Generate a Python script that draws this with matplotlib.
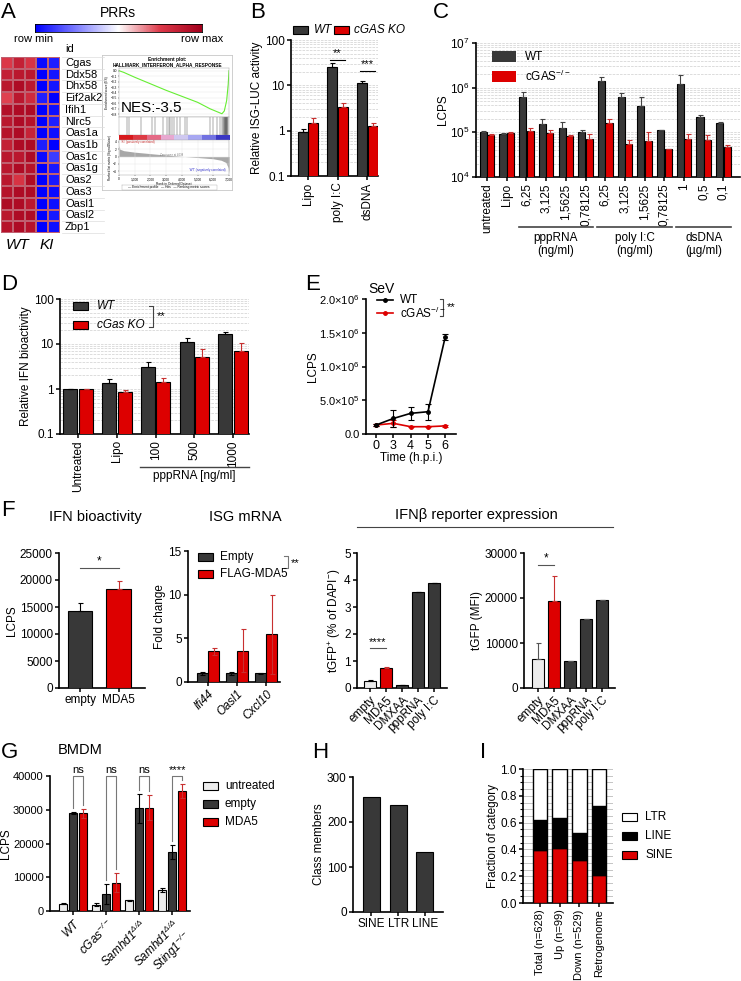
import numpy as np
import matplotlib.pyplot as plt
from matplotlib.colors import LinearSegmentedColormap, ListedColormap
from matplotlib.patches import Rectangle
from matplotlib.lines import Line2D
from matplotlib.ticker import LogLocator, NullFormatter, MultipleLocator

W, H = 741, 981
DARK = '#383838'
RED = '#dd0000'
LIGHT = '#ececec'
ERR_RED = '#c83030'

plt.rcParams['font.family'] = ['Liberation Sans', 'DejaVu Sans']
plt.rcParams['mathtext.fontset'] = 'custom'
plt.rcParams['mathtext.rm'] = 'Liberation Sans'
plt.rcParams['mathtext.it'] = 'Liberation Sans:italic'
plt.rcParams['mathtext.default'] = 'regular'
plt.rcParams['font.size'] = 8

# ---------------- data ----------------
# A: heatmap (row-scaled, 0 = row min, 1 = row max), WT x3, KI x2
genes = ['Cgas', 'Ddx58', 'Dhx58', 'Eif2ak2', 'Ifih1', 'Nlrc5', 'Oas1a', 'Oas1b',
         'Oas1c', 'Oas1g', 'Oas2', 'Oas3', 'Oasl1', 'Oasl2', 'Zbp1']
heat_vals = [
    [0.76, 0.86, 0.78, 0.02, 0.06],
    [0.86, 0.90, 0.90, 0.00, 0.04],
    [0.90, 0.95, 0.90, 0.00, 0.04],
    [0.74, 0.90, 0.82, 0.06, 0.00],
    [0.93, 0.95, 0.95, 0.00, 0.03],
    [0.90, 0.95, 0.92, 0.00, 0.06],
    [0.92, 0.95, 0.85, 0.00, 0.03],
    [0.86, 0.95, 0.95, 0.06, 0.00],
    [0.90, 0.90, 0.95, 0.02, 0.12],
    [0.90, 0.95, 0.92, 0.00, 0.05],
    [0.90, 0.78, 0.95, 0.00, 0.05],
    [0.92, 0.95, 0.95, 0.00, 0.02],
    [0.95, 0.95, 0.90, 0.00, 0.03],
    [0.90, 0.95, 0.95, 0.00, 0.05],
    [0.92, 0.95, 0.92, 0.00, 0.03],
]
es_rank = [0, 300, 1000, 2000, 3000, 4000, 5000, 5800, 6300, 6550, 6700, 6850, 6950, 7000]
es_score = [0, -0.03, -0.12, -0.24, -0.36, -0.47, -0.58, -0.70, -0.76, -0.79, -0.74, -0.55, -0.25, 0.0]
hit_ranks = [480, 620, 1380, 2100, 2260, 2800, 3050, 3200, 3260, 3350, 3480, 3700, 3900,
             4200, 4350, 5800, 6000, 6250, 6420, 6560, 6640, 6670, 6700, 6720, 6740, 6760,
             6780, 6800, 6820, 6840, 6860, 6880, 6900, 6920]
metric_rank = [0, 60, 300, 1000, 2000, 3000, 4000, 5000, 6000, 6500, 6800, 6950, 7000]
metric_score = [3.0, 2.0, 1.6, 1.2, 0.8, 0.4, 0.05, -0.25, -0.6, -1.0, -1.6, -3.0, -4.5]
band_colors = ['#d7191c', '#dd3b45', '#e56a86', '#e8a8d0', '#cfc8f0', '#a8a8f2', '#7272e2', '#3a36c4']

# B
b_cats = ['Lipo', 'poly I:C', 'dsDNA']
b_wt = [0.95, 25.9, 11.4]
b_wt_err = [0.12, 5.7, 1.1]
b_ko = [1.5, 3.4, 1.29]
b_ko_err = [0.38, 0.75, 0.21]

# C
c_cats = ['untreated', 'Lipo', '6,25', '3,125', '1,5625', '0,78125',
          '6,25', '3,125', '1,5625', '0,78125', '1', '0,5', '0,1']
c_wt = [1.03e5, 9.0e4, 6.25e5, 1.53e5, 1.23e5, 1.03e5, 1.4e6, 6.1e5, 3.9e5, 1.13e5, 1.18e6, 2.17e5, 1.58e5]
c_wt_err = [0.06e5, 0.06e5, 1.85e5, 0.42e5, 0.47e5, 0.1e5, 0.3e6, 1.4e5, 2.2e5, 0.02e5, 0.72e6, 0.27e5, 0.14e5]
c_ko = [8.7e4, 9.5e4, 1.08e5, 9.8e4, 8.2e4, 7.0e4, 1.58e5, 5.5e4, 6.4e4, 4.2e4, 7.1e4, 6.7e4, 4.8e4]
c_ko_err = [0.03e5, 0.08e5, 0.15e5, 0.15e5, 0.05e5, 0.2e5, 0.4e5, 0.12e5, 0.36e5, 0.01e5, 0.2e5, 0.2e5, 0.03e5]

# D
d_cats = ['Untreated', 'Lipo', '100', '500', '1000']
d_wt = [1.0, 1.34, 3.13, 11.2, 16.4]
d_wt_err = [0.0, 0.3, 0.77, 2.6, 2.3]
d_ko = [1.0, 0.84, 1.45, 5.2, 7.1]
d_ko_err = [0.0, 0.11, 0.33, 2.4, 3.6]

# E
e_time = ['0', '3', '4', '5', '6']
e_wt = [1.33e5, 2.3e5, 3.06e5, 3.3e5, 1.44e6]
e_wt_err = [0.1e5, 1.2e5, 1.0e5, 1.2e5, 0.4e5]
e_ko = [1.33e5, 1.58e5, 1.08e5, 1.08e5, 1.2e5]
e_ko_err = [0.1e5, 0.5e5, 0.1e5, 0.1e5, 0.2e5]

# F
f1_cats = ['empty', 'MDA5']
f1_vals = [14300, 18350]
f1_err = [1500, 1500]
f2_genes = ['Ifi44', 'Oasl1', 'Cxcl10']
f2_empty = [1.0, 1.0, 1.0]
f2_empty_err = [0.15, 0.15, 0.05]
f2_mda5 = [3.5, 3.6, 5.46]
f2_mda5_err = [0.4, 2.5, 4.5]
f3_cats = ['empty', 'MDA5', 'DMXAA', 'pppRNA', 'poly I:C']
f3_vals = [0.25, 0.73, 0.10, 3.57, 3.88]
f3_err = [0.06, 0.04, 0.0, 0.0, 0.0]
f4_vals = [6440, 19330, 6070, 15330, 19550]
f4_err = [3560, 5570, 0, 0, 0]
f34_colors = [LIGHT, RED, DARK, DARK, DARK]

# G
g_groups = [r'WT', r'cGas$^{-/-}$', r'Samhd1$^{\Delta/\Delta}$', 'Samhd1$^{\Delta/\Delta}$\nSting1$^{-/-}$']
g_untreated = [2200, 1900, 3200, 6200]
g_untreated_err = [100, 400, 200, 500]
g_empty = [29100, 5000, 30400, 17400]
g_empty_err = [300, 2900, 4300, 2100]
g_mda5 = [28900, 8400, 30600, 35500]
g_mda5_err = [1200, 2800, 3700, 2100]
g_sig = ['ns', 'ns', 'ns', '****']

# H
h_cats = ['SINE', 'LTR', 'LINE']
h_vals = [255, 237, 133]

# I
i_cats = ['Total (n=628)', 'Up (n=99)', 'Down (n=529)', 'Retrogenome']
i_sine = [0.395, 0.41, 0.32, 0.21]
i_line = [0.225, 0.225, 0.205, 0.515]
i_ltr = [1 - s - l for s, l in zip(i_sine, i_line)]

# ---------------- helpers ----------------
fig = plt.figure(figsize=(W / 100, H / 100), dpi=100)
TICK = 8.5
LAB = 8.5


def px_ax(x0, y0, x1, y1):
    return fig.add_axes([x0 / W, 1 - y1 / H, (x1 - x0) / W, (y1 - y0) / H])


def ftext(x, y, s, **kw):
    kw.setdefault('ha', 'left')
    kw.setdefault('va', 'center')
    fig.text(x / W, 1 - y / H, s, **kw)


def fbox(x, y, w, h, color, lw=0.8):
    fig.patches.append(Rectangle((x / W, 1 - (y + h) / H), w / W, h / H, transform=fig.transFigure,
                                 facecolor=color, edgecolor='black', lw=lw))


def fline(xs, ys, **kw):
    fig.add_artist(Line2D([x / W for x in xs], [1 - y / H for y in ys], **kw))


def style(ax, fs=TICK):
    for s in ('top', 'right'):
        ax.spines[s].set_visible(False)
    for s in ('left', 'bottom'):
        ax.spines[s].set_linewidth(1.2)
    ax.tick_params(labelsize=fs, width=1.1, length=3, pad=1.5)


def bars(ax, x, vals, errs, color, width, ecolor, both=False, zorder=3):
    errs = np.array(errs, dtype=float)
    yerr = errs if both else [np.zeros(len(errs)), errs]
    ax.bar(x, vals, width, color=color, edgecolor='black', linewidth=0.8, yerr=yerr, zorder=zorder,
           error_kw=dict(ecolor=ecolor, elinewidth=0.8, capsize=1.8, capthick=0.8, zorder=zorder + 1))


def log_grid(ax):
    ax.yaxis.set_minor_locator(LogLocator(base=10, subs=np.arange(2, 10)))
    ax.yaxis.set_minor_formatter(NullFormatter())
    ax.yaxis.grid(True, which='both', linestyle='--', color='#cfcfcf', lw=0.5, zorder=0)
    ax.tick_params(axis='y', which='minor', length=0)


def letter(x, y, s):
    ftext(x, y, s, fontsize=16)


# ---------------- A ----------------
letter(1, 13, 'A')
ftext(118, 13, 'PRRs', ha='center', fontsize=10)
cmap = LinearSegmentedColormap.from_list(
    'prr', [(0, '#0000ff'), (0.5, '#ffffff'), (0.75, '#de3a4a'), (1.0, '#a3001c')])
cb_ax = px_ax(35, 24, 202, 32)
cb_ax.imshow([np.linspace(0, 1, 200)], cmap=cmap, aspect='auto')
cb_ax.set_xticks([])
cb_ax.set_yticks([])
for s in cb_ax.spines.values():
    s.set_linewidth(0.6)
ftext(34, 39, 'row min', ha='center', fontsize=8)
ftext(202, 39, 'row max', ha='center', fontsize=8)
ftext(65, 49, 'id', fontsize=8)

hm = px_ax(1, 57, 60, 233)
hm.pcolormesh(np.array(heat_vals), cmap=cmap, vmin=0, vmax=1, edgecolors='#c06070', linewidth=0.25)
hm.set_ylim(len(genes), 0)
hm.axis('off')
row_h = (233 - 57) / len(genes)
for i, g in enumerate(genes):
    ftext(65, 57 + (i + 0.5) * row_h, g, fontsize=8)
    fline([62, 104], [57 + (i + 1) * row_h, 57 + (i + 1) * row_h], color='#dddddd', lw=0.5)
fline([62, 104], [57, 57], color='#dddddd', lw=0.5)
ftext(18, 245, 'WT', ha='center', fontsize=11, style='italic')
ftext(47, 245, 'KI', ha='center', fontsize=11, style='italic')

# GSEA inset
gbg = px_ax(102, 55, 232, 190)
gbg.set_xticks([])
gbg.set_yticks([])
for s in gbg.spines.values():
    s.set_linewidth(0.6)
    s.set_color('#c8c8c8')
ftext(167, 60, 'Enrichment plot:', ha='center', fontsize=3.4, weight='bold')
ftext(167, 64.5, 'HALLMARK_INTERFERON_ALPHA_RESPONSE', ha='center', fontsize=3.4, weight='bold')
gx0, gx1 = 119, 229
es_ax = px_ax(gx0, 68, gx1, 117)
es_ax.plot(es_rank, es_score, color='#66ee33', lw=0.8)
es_ax.set_xlim(0, 7000)
es_ax.set_ylim(-0.85, 0.05)
es_ax.set_xticks([])
es_ax.set_yticks([-0.8, -0.7, -0.6, -0.5, -0.4, -0.3, -0.2, -0.1, 0.0])
es_ax.grid(color='#e4e4e4', lw=0.3)
es_ax.tick_params(labelsize=2.3, length=1, width=0.3, pad=0.5)
es_ax.set_ylabel('Enrichment score (ES)', fontsize=2.3, labelpad=1)
for s in es_ax.spines.values():
    s.set_linewidth(0.3)
    s.set_color('#999999')
ftext(121, 108, 'NES:-3.5', fontsize=11)

bc_ax = px_ax(gx0, 117, gx1, 135)
bc_ax.vlines(hit_ranks, 0, 1, color='#555555', lw=0.35)
bc_ax.set_xlim(0, 7000)
bc_ax.set_ylim(0, 1)
bc_ax.set_xticks([])
bc_ax.set_yticks([])
for s in bc_ax.spines.values():
    s.set_linewidth(0.3)
    s.set_color('#999999')

band_ax = px_ax(gx0, 135, gx1, 140)
band_ax.imshow([list(range(len(band_colors)))], cmap=ListedColormap(band_colors), aspect='auto')
band_ax.axis('off')

rk_ax = px_ax(gx0, 140, gx1, 175)
rk_ax.fill_between(metric_rank, metric_score, color='#a8a8a8', lw=0)
rk_ax.set_xlim(0, 7000)
rk_ax.set_ylim(-5, 4.5)
rk_ax.set_yticks([-4, -2, 0, 2, 4])
rk_ax.set_xticks(range(0, 7001, 1000))
rk_ax.set_xticklabels([f'{v:,}' for v in range(0, 7001, 1000)])
rk_ax.grid(color='#e4e4e4', lw=0.3)
rk_ax.tick_params(labelsize=2.3, length=1, width=0.3, pad=0.5)
rk_ax.set_ylabel('Ranked list metric (Signal2Noise)', fontsize=2.2, labelpad=1)
rk_ax.set_xlabel('Rank in Ordered Dataset', fontsize=2.3, labelpad=0.5)
for s in rk_ax.spines.values():
    s.set_linewidth(0.3)
    s.set_color('#999999')
ftext(121, 142.5, "'KI' (positively correlated)", fontsize=2.2, color='#cc3333')
ftext(226, 170, "'WT' (negatively correlated)", fontsize=2.2, color='#3333cc', ha='right')
ftext(172, 155, 'Zero score at 4038', fontsize=2.0, color='#777777', ha='center')
fline([122, 217, 217, 122, 122], [184.5, 184.5, 189.5, 189.5, 184.5], color='#aaaaaa', lw=0.3)
ftext(169, 187, '\u2014 Enrichment profile   \u2014 Hits   \u2014 Ranking metric scores',
      ha='center', fontsize=2.3)

# ---------------- B ----------------
letter(250, 13, 'B')
ax = px_ax(291, 40, 378, 176)
style(ax)
ax.set_yscale('log')
log_grid(ax)
xb = np.arange(len(b_cats))
bars(ax, xb - 0.18, b_wt, b_wt_err, DARK, 0.34, 'black')
bars(ax, xb + 0.18, b_ko, b_ko_err, RED, 0.34, ERR_RED)
ax.set_ylim(0.1, 100)
ax.set_yticks([0.1, 1, 10, 100])
ax.set_yticklabels(['0.1', '1', '10', '100'])
ax.set_xlim(-0.57, 2.36)
ax.set_xticks(xb)
ax.set_xticklabels(b_cats, rotation=90)
ax.set_ylabel('Relative ISG-LUC activity', fontsize=LAB, labelpad=1)
for xi, yl, ys, s in [(1, 36, 39, '**'), (2, 21, 22.5, '***')]:
    ax.plot([xi - 0.25, xi + 0.25], [yl, yl], color='black', lw=0.8)
    ax.text(xi, ys, s, ha='center', va='bottom', fontsize=8)
fbox(293, 26, 15, 8, DARK)
ftext(314, 30, 'WT', fontsize=8.5, style='italic')
fbox(334, 26, 15, 8, RED)
ftext(354, 30, 'cGAS KO', fontsize=8.5, style='italic')

# ---------------- C ----------------
letter(433, 13, 'C')
ax = px_ax(476, 43, 740, 177)
style(ax)
ax.set_yscale('log')
log_grid(ax)
xc = np.arange(len(c_cats))
bars(ax, xc - 0.19, c_wt, c_wt_err, DARK, 0.36, '#444444')
bars(ax, xc + 0.19, c_ko, c_ko_err, RED, 0.36, ERR_RED)
ax.set_ylim(1e4, 1e7)
ax.set_xlim(-0.56, 12.84)
ax.set_xticks(xc)
ax.set_xticklabels(c_cats, rotation=90)
ax.set_ylabel('LCPS', fontsize=LAB, labelpad=1)
ax.legend(handles=[Rectangle((0, 0), 1, 1, facecolor=DARK, edgecolor='none', label='WT'),
                   Rectangle((0, 0), 1, 1, facecolor=RED, edgecolor='none', label='cGAS$^{-/-}$')],
          loc='upper left', bbox_to_anchor=(0.02, 1.02), frameon=False, fontsize=8.5,
          handlelength=2.0, handleheight=1.0, labelspacing=0.45)
xt = ax.get_xaxis_transform()
for a, b, lab in [(2, 5, 'pppRNA\n(ng/ml)'), (6, 9, 'poly I:C\n(ng/ml)'), (10, 12, 'dsDNA\n(\u00b5g/ml)')]:
    ax.plot([a - 0.4, b + 0.4], [-0.375, -0.375], color='#444444', lw=1.2, transform=xt, clip_on=False)
    ax.text((a + b) / 2, -0.41, lab, ha='center', va='top', fontsize=8.5, transform=xt,
            linespacing=1.15)

# ---------------- D ----------------
letter(1, 284, 'D')
ax = px_ax(60, 299, 249, 434)
style(ax)
ax.set_yscale('log')
log_grid(ax)
xd = np.arange(len(d_cats))
bars(ax, xd - 0.2, d_wt, d_wt_err, DARK, 0.36, 'black')
bars(ax, xd + 0.2, d_ko, d_ko_err, RED, 0.36, ERR_RED)
ax.set_ylim(0.1, 100)
ax.set_yticks([0.1, 1, 10, 100])
ax.set_yticklabels(['0.1', '1', '10', '100'])
ax.set_xlim(-0.47, 4.41)
ax.set_xticks(xd)
ax.set_xticklabels(d_cats, rotation=90)
ax.set_ylabel('Relative IFN bioactivity', fontsize=LAB, labelpad=1)
xt = ax.get_xaxis_transform()
ax.plot([1.6, 4.41], [-0.245, -0.245], color='#444444', lw=1.0, transform=xt, clip_on=False)
ax.text(3.0, -0.27, 'pppRNA [ng/ml]', ha='center', va='top', fontsize=8.5, transform=xt)
fbox(73, 302, 15, 8, DARK)
ftext(97, 306, 'WT', fontsize=8.5, style='italic')
fbox(73, 321, 15, 8, RED)
ftext(97, 325, 'cGas KO', fontsize=8.5, style='italic')
fline([149, 153, 153, 149], [306, 306, 327, 327], color='#444444', lw=0.8)
ftext(157, 316, '**', fontsize=8)

# ---------------- E ----------------
letter(305, 284, 'E')
ftext(381, 289, 'SeV', ha='center', fontsize=10)
ax = px_ax(366, 299, 456, 434)
style(ax)
xe = np.arange(len(e_time))
ax.errorbar(xe, e_wt, yerr=e_wt_err, color='black', lw=1.2, marker='o', ms=2.5,
            capsize=2, elinewidth=0.8, capthick=0.8, zorder=4)
ax.errorbar(xe, e_ko, yerr=e_ko_err, color=RED, lw=1.2, marker='o', ms=2.5,
            capsize=2, elinewidth=0.8, capthick=0.8, zorder=3)
ax.set_xlim(-0.58, 4.62)
ax.set_ylim(0, 2e6)
ax.set_xticks(xe)
ax.set_xticklabels(e_time, fontsize=9)
ax.set_yticks([0, 5e5, 1e6, 1.5e6, 2e6])
ax.set_yticklabels(['0.0', '5.0\u00d710$^5$', '1.0\u00d710$^6$', '1.5\u00d710$^6$', '2.0\u00d710$^6$'],
                   fontsize=8)
ax.set_xlabel('Time (h.p.i.)', fontsize=LAB, labelpad=0)
ax.set_ylabel('LCPS', fontsize=LAB, labelpad=0)
fline([377, 393], [300, 300], color='black', lw=1.2)
fline([385], [300], color='black', marker='o', ms=2.5)
ftext(400, 300, 'WT', fontsize=8.5)
fline([377, 393], [313, 313], color=RED, lw=1.2)
fline([385], [313], color=RED, marker='o', ms=2.5)
ftext(400, 313, 'cGAS$^{-/-}$', fontsize=8.5)
fline([440, 443, 443, 440], [299, 299, 316, 316], color='#444444', lw=0.8)
ftext(447, 307, '**', fontsize=8)

# ---------------- F ----------------
letter(1, 511, 'F')
ftext(95, 517, 'IFN bioactivity', ha='center', fontsize=10.5)
ftext(245, 517, 'ISG mRNA', ha='center', fontsize=10.5)
ftext(476, 515, 'IFN\u03b2 reporter expression', ha='center', fontsize=10.5)
fline([357, 613], [527, 527], color='#444444', lw=0.8)

ax = px_ax(59, 553, 145, 688)
style(ax)
x1 = np.arange(len(f1_cats))
bars(ax, x1[:1], f1_vals[:1], f1_err[:1], DARK, 0.64, 'black')
bars(ax, x1[1:], f1_vals[1:], f1_err[1:], RED, 0.64, ERR_RED)
ax.set_xlim(-0.54, 1.67)
ax.set_ylim(0, 25000)
ax.set_yticks(range(0, 25001, 5000))
ax.set_xticks(x1)
ax.set_xticklabels(f1_cats)
ax.set_ylabel('LCPS', fontsize=LAB, labelpad=1)
ax.plot([0, 1], [22200, 22200], color='#555555', lw=0.8)
ax.text(0.5, 22300, '*', ha='center', va='bottom', fontsize=8.5)

ax = px_ax(188, 551, 280, 682)
style(ax)
x2 = np.arange(len(f2_genes))
bars(ax, x2 - 0.2, f2_empty, f2_empty_err, DARK, 0.38, 'black', both=True)
bars(ax, x2 + 0.2, f2_mda5, f2_mda5_err, RED, 0.38, ERR_RED, both=True)
ax.set_xlim(-0.69, 2.48)
ax.set_ylim(0, 15)
ax.set_yticks([0, 5, 10, 15])
ax.set_xticks(x2)
ax.set_xticklabels(f2_genes, rotation=45, ha='right', rotation_mode='anchor', style='italic')
ax.set_ylabel('Fold change', fontsize=LAB, labelpad=2)
fbox(198, 553, 15, 8, DARK)
ftext(220, 557, 'Empty', fontsize=8.5)
fbox(198, 570, 15, 8, RED)
ftext(220, 574, 'FLAG-MDA5', fontsize=8.5)
fline([284, 288, 288, 284], [556, 556, 568, 568], color='#777777', lw=0.8)
ftext(291, 563, '**', fontsize=8)

ax = px_ax(357, 553, 447, 688)
style(ax)
x3 = np.arange(len(f3_cats))
for xi, v, e, c in zip(x3, f3_vals, f3_err, f34_colors):
    bars(ax, [xi], [v], [e], c, 0.75, ERR_RED if c == RED else 'black')
ax.set_xlim(-0.82, 4.84)
ax.set_ylim(0, 5)
ax.set_yticks(range(0, 6))
ax.set_xticks(x3)
ax.set_xticklabels(f3_cats, rotation=45, ha='right', rotation_mode='anchor')
ax.set_ylabel('tGFP$^{+}$ (% of DAPI$^{-}$)', fontsize=LAB, labelpad=1)
ax.plot([0, 1], [1.49, 1.49], color='#555555', lw=0.8)
ax.text(0.5, 1.5, '****', ha='center', va='bottom', fontsize=8)

ax = px_ax(524, 553, 615, 688)
style(ax)
for xi, v, e, c in zip(x3, f4_vals, f4_err, f34_colors):
    bars(ax, [xi], [v], [e], c, 0.75, ERR_RED if c == RED else '#555555')
ax.set_xlim(-0.875, 4.81)
ax.set_ylim(0, 30000)
ax.set_yticks([0, 10000, 20000, 30000])
ax.set_xticks(x3)
ax.set_xticklabels(f3_cats, rotation=45, ha='right', rotation_mode='anchor')
ax.set_ylabel('tGFP (MFI)', fontsize=LAB, labelpad=1)
ax.plot([0, 1], [27300, 27300], color='#555555', lw=0.8)
ax.text(0.5, 27400, '*', ha='center', va='bottom', fontsize=8.5)

# ---------------- G ----------------
letter(1, 753, 'G')
ftext(80, 750, 'BMDM', ha='center', fontsize=10.5)
ax = px_ax(50, 776, 190, 911)
style(ax, fs=8)
xg = np.arange(len(g_groups))
bars(ax, xg - 0.3, g_untreated, g_untreated_err, LIGHT, 0.25, 'black', both=True)
bars(ax, xg, g_empty, g_empty_err, DARK, 0.25, 'black', both=True)
bars(ax, xg + 0.3, g_mda5, g_mda5_err, RED, 0.25, ERR_RED, both=True)
ax.set_xlim(-0.70, 3.54)
ax.set_ylim(0, 40000)
ax.set_yticks(range(0, 40001, 10000))
ax.set_xticks(xg)
ax.set_xticklabels(g_groups, rotation=45, ha='right', rotation_mode='anchor', style='italic',
                   linespacing=1.0, fontsize=8.5)
ax.set_ylabel('LCPS', fontsize=LAB, labelpad=0.5)
for xi, e, ee, m, me, s in zip(xg, g_empty, g_empty_err, g_mda5, g_mda5_err, g_sig):
    ax.plot([xi, xi, xi + 0.3, xi + 0.3], [e + ee + 1200, 40000, 40000, m + me + 1200],
            color='#777777', lw=0.8, clip_on=False)
    ax.text(xi + 0.15, 40400, s, ha='center', va='bottom', fontsize=8)
for i, (lab, col) in enumerate([('untreated', LIGHT), ('empty', DARK), ('MDA5', RED)]):
    fbox(203, 782 + 18 * i, 15, 8, col)
    ftext(225, 786 + 18 * i, lab, fontsize=8.5)

# ---------------- H ----------------
letter(312, 752, 'H')
ax = px_ax(353, 777, 443, 912)
style(ax)
xh = np.arange(len(h_cats))
ax.bar(xh, h_vals, 0.63, color=DARK, edgecolor='black', linewidth=0.8, zorder=3)
ax.set_xlim(-0.69, 2.68)
ax.set_ylim(0, 300)
ax.set_yticks([0, 100, 200, 300])
ax.set_xticks(xh)
ax.set_xticklabels(h_cats)
ax.set_ylabel('Class members', fontsize=LAB, labelpad=1)

# ---------------- I ----------------
letter(480, 752, 'I')
ax = px_ax(523, 769, 613, 903)
style(ax)
xi_ = np.arange(len(i_cats))
ax.bar(xi_, i_sine, 0.73, color=RED, edgecolor='black', linewidth=1.0, zorder=3)
ax.bar(xi_, i_line, 0.73, bottom=i_sine, color='black', edgecolor='black', linewidth=1.0, zorder=3)
ax.bar(xi_, i_ltr, 0.73, bottom=[s + l for s, l in zip(i_sine, i_line)], color='white',
       edgecolor='black', linewidth=1.0, zorder=3)
ax.set_xlim(-0.86, 3.71)
ax.set_ylim(0, 1.0)
ax.set_yticks([0, 0.2, 0.4, 0.6, 0.8, 1.0])
ax.set_yticklabels(['0.0', '0.2', '0.4', '0.6', '0.8', '1.0'])
ax.yaxis.set_minor_locator(MultipleLocator(0.05))
ax.tick_params(axis='y', which='minor', length=2, width=0.8)
ax.yaxis.grid(True, which='both', color='#bbbbbb', lw=0.6, zorder=0)
ax.set_xticks(xi_)
ax.set_xticklabels(i_cats, rotation=90, fontsize=8)
ax.set_ylabel('Fraction of category', fontsize=LAB, labelpad=1)
for i, (lab, col) in enumerate([('LTR', 'white'), ('LINE', 'black'), ('SINE', RED)]):
    fbox(622, 813 + 19 * i, 15, 8, col)
    ftext(645, 817 + 19 * i, lab, fontsize=8.5)

fig.savefig('out.png', dpi=100)
